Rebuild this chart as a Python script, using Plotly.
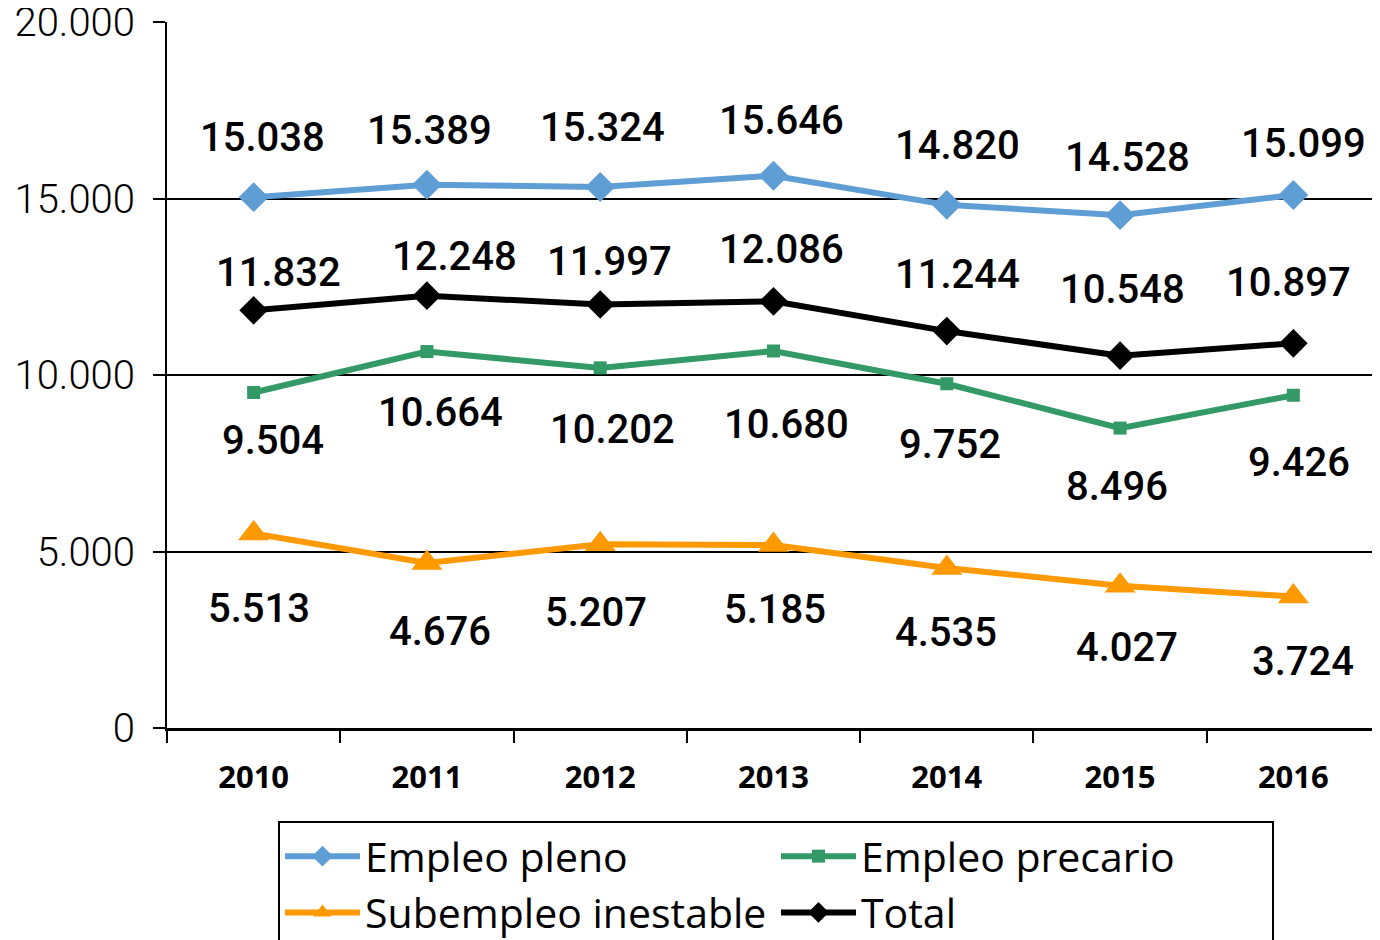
import plotly.graph_objects as go

years = ["2010", "2011", "2012", "2013", "2014", "2015", "2016"]
empleo_pleno = [15038, 15389, 15324, 15646, 14820, 14528, 15099]
empleo_precario = [9504, 10664, 10202, 10680, 9752, 8496, 9426]
subempleo_inestable = [5513, 4676, 5207, 5185, 4535, 4027, 3724]
total = [11832, 12248, 11997, 12086, 11244, 10548, 10897]

# label shifts in px (dx, dy)
pleno_shift = [(9, 60), (3, 54), (2, 60), (8, 55), (11, 59), (7, 58), (10, 52)]
precario_shift = [(19, -48), (14, -61), (12, -62), (13, -73), (3, -61), (-3, -58), (6, -67)]
subempleo_shift = [(5, -75), (13, -69), (-4, -68), (1, -65), (-1, -65), (7, -62), (10, -65)]
total_shift = [(25, 38), (28, 39), (9, 43), (8, 52), (11, 57), (2, 66), (-5, 61)]


def fmt(v):
    return f"{v:,}".replace(",", ".")


series = [
    ("Empleo pleno", empleo_pleno, "#5F9ED4", "diamond", 23, pleno_shift),
    ("Empleo precario", empleo_precario, "#339966", "square", 13, precario_shift),
    ("Subempleo inestable", subempleo_inestable, "#FF9900", "triangle-up", 27, subempleo_shift),
    ("Total", total, "#000000", "diamond", 22, total_shift),
]

fig = go.Figure()
for name, vals, color, sym, size, shifts in series:
    fig.add_trace(go.Scatter(
        x=years, y=vals, name=name, mode="lines+markers",
        line=dict(color=color, width=6),
        marker=dict(symbol=sym, size=size, color=color),
    ))
    # category axis: place labels by index so "2010" is not read as a position
    for i, (v, (dx, dy)) in enumerate(zip(vals, shifts)):
        fig.add_annotation(
            x=i, y=v, text=fmt(v), showarrow=False,
            xshift=dx, yshift=dy,
            font=dict(family="Roboto", size=40, color="black", weight=500),
        )

# page body has an 8px margin, so the figure is 8px smaller than the window
W, H = 1372, 932
fig.update_layout(
    width=W, height=H,
    margin=dict(l=159, r=0, t=14, b=212),
    plot_bgcolor="white", paper_bgcolor="white",
    showlegend=True,
    legend=dict(
        orientation="h",
        xref="container", yref="container",
        x=270 / W, y=1 - 813 / H, xanchor="left", yanchor="top",
        entrywidth=406, entrywidthmode="pixels",
        itemwidth=75,
        bordercolor="black", borderwidth=2,
        font=dict(family="Open Sans", size=41, color="black"),
        tracegroupgap=0,
    ),
)

fig.update_yaxes(
    range=[0, 20000], tickvals=[0, 5000, 10000, 15000, 20000],
    ticktext=[fmt(v) for v in [0, 5000, 10000, 15000, 20000]],
    showgrid=True, gridcolor="black", gridwidth=1.5,
    showline=True, linecolor="black", linewidth=2,
    ticks="outside", ticklen=12, tickwidth=2, tickcolor="black",
    ticklabelstandoff=10, automargin=False, ticklabeloverflow="allow",
    tickfont=dict(family="Roboto", size=40, color="black", weight=300),
    zeroline=False,
)
fig.update_xaxes(
    type="category", range=[-0.5, 6.5],
    showline=True, linecolor="black", linewidth=2.5,
    ticks="outside", ticklen=12, tickwidth=2, tickcolor="black",
    tickson="boundaries", automargin=False,
    showgrid=False,
    ticklabelstandoff=20,
    tickfont=dict(family="Noto Sans", size=31, color="black", weight="bold"),
)

fig.write_html("out.html")
